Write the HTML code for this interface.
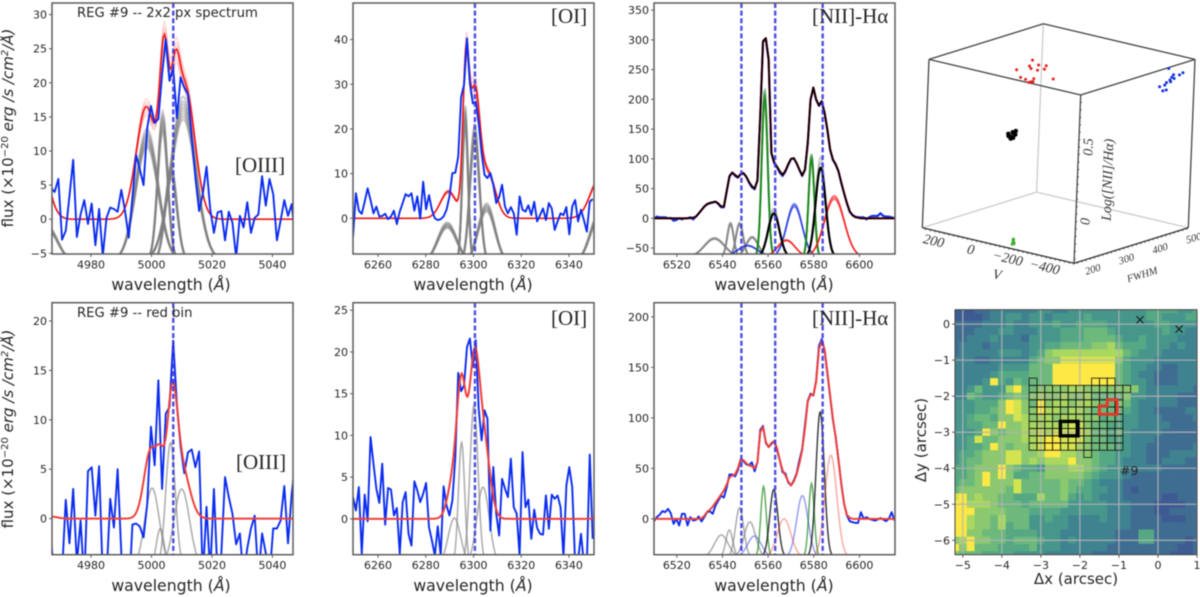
<!DOCTYPE html>
<html lang="en">
<head>
<meta charset="utf-8">
<title>REG #9 spectra and maps</title>
<style>
html,body{margin:0;padding:0;background:#fff;width:1200px;height:597px;overflow:hidden}
svg{display:block;filter:blur(.45px)}
text{font-family:"DejaVu Sans","Liberation Sans",sans-serif;fill:#262626}
.tick{font-size:11px}
.axis{font-size:15.7px}
.mapax{font-size:15px}
.yax{font-size:15px}
.note{font-size:13.2px}
.line{font-family:"Liberation Serif",serif;font-size:21px}
.d3{font-family:"Liberation Serif",serif;font-style:italic;font-size:14px;fill:#333}
.d3s{font-family:"Liberation Serif",serif;font-style:italic;font-size:10.5px;fill:#333}
</style>
</head>
<body>
<svg id="figure" xmlns="http://www.w3.org/2000/svg" width="1200" height="597" viewBox="0 0 1200 597">
  <rect width="1200" height="597" fill="#fff"/>
  <g id="layer"></g>
  <g>
    <text class="yax" text-anchor="middle" transform="translate(13 128) rotate(-90)">flux (×10<tspan dy="-5" font-size="10">−20</tspan><tspan dy="5"> </tspan><tspan font-style="italic">erg /s /cm</tspan><tspan dy="-5" font-size="10" font-style="italic">2</tspan><tspan dy="5" font-style="italic">/Å)</tspan></text>
    <text class="yax" text-anchor="middle" transform="translate(13 429) rotate(-90)">flux (×10<tspan dy="-5" font-size="10">−20</tspan><tspan dy="5"> </tspan><tspan font-style="italic">erg /s /cm</tspan><tspan dy="-5" font-size="10" font-style="italic">2</tspan><tspan dy="5" font-style="italic">/Å)</tspan></text>
    <text class="axis" x="171" y="290" text-anchor="middle">wavelength (<tspan font-style="italic">Å</tspan>)</text>
    <text class="axis" x="473" y="290" text-anchor="middle">wavelength (<tspan font-style="italic">Å</tspan>)</text>
    <text class="axis" x="774" y="290" text-anchor="middle">wavelength (<tspan font-style="italic">Å</tspan>)</text>
    <text class="axis" x="171" y="591" text-anchor="middle">wavelength (<tspan font-style="italic">Å</tspan>)</text>
    <text class="axis" x="473" y="591" text-anchor="middle">wavelength (<tspan font-style="italic">Å</tspan>)</text>
    <text class="axis" x="774" y="591" text-anchor="middle">wavelength (<tspan font-style="italic">Å</tspan>)</text>
    <text class="note" x="77" y="17">REG #9 -- 2x2 px spectrum</text>
    <text class="note" x="77" y="317">REG #9 -- red bin</text>
    <text class="line" x="235" y="172">[OIII]</text>
    <text class="line" x="551" y="23">[OI]</text>
    <text class="line" x="812" y="23">[NII]-Hα</text>
    <text class="line" x="236" y="469">[OIII]</text>
    <text class="line" x="551" y="325">[OI]</text>
    <text class="line" x="812" y="325">[NII]-Hα</text>
    <text class="mapax" x="1076" y="584" text-anchor="middle">Δx (arcsec)</text>
    <text class="mapax" text-anchor="middle" transform="translate(926 440) rotate(-90)">Δy (arcsec)</text>
    <text x="1120" y="475" font-size="12.5">#9</text>
    <text class="d3" x="997" y="279" text-anchor="middle" transform="rotate(10 997 275)">V</text>
    <text class="d3s" x="1142" y="278" text-anchor="middle" transform="rotate(-17 1142 274)">FWHM</text>
    <text class="d3" text-anchor="middle" transform="translate(1112 180) rotate(-88)">Log([NII]/Hα)</text>
  </g>
</svg>
<script>
/* ---------- shared spectral sampling ---------- */
const sampleStep = 1.225;
const oiiiStart = 4966.75;
const oiStart = 6249.5;
const niiStart = 6510;

/* ---------- tick labels ---------- */
const oiiiXTicks = [4980, 5000, 5020, 5040];
const oiXTicks = [6260, 6280, 6300, 6320, 6340];
const niiXTicks = [6520, 6540, 6560, 6580, 6600];
const oiiiTopYTicks = [-5, 0, 5, 10, 15, 20, 25, 30];
const oiTopYTicks = [0, 10, 20, 30, 40];
const niiTopYTicks = [-50, 0, 50, 100, 150, 200, 250, 300, 350];
const oiiiBottomYTicks = [0, 5, 10, 15, 20];
const oiBottomYTicks = [0, 5, 10, 15, 20, 25];
const niiBottomYTicks = [0, 50, 100, 150, 200];
const mapXTicks = [-5, -4, -3, -2, -1, 0, 1];
const mapYTicks = [0, -1, -2, -3, -4, -5, -6];
const cubeVLabels = [200, 0, -200, -400];
const cubeFwhmLabels = [200, 300, 400, 500];
const cubeLogLabels = [0, 0.5];

/* ---------- rest-frame reference wavelengths ---------- */
const oiiiRest = [5007.2];
const oiRest = [6300.6];
const niiRest = [6548.3, 6563.1, 6583.9];

/* ---------- [OIII] top ---------- */
const oiiiTopFlux = [4.6,4.0,5.9,-3.0,-1.7,3.4,8.7,-2.6,0.7,2.8,-0.7,2.3,-3.8,1.5,-5.4,0.2,1.7,1.5,1.1,4.3,1.2,-2.7,3.2,9.4,7.3,5.0,13.4,16.6,14.1,14.7,21.2,26.4,20.3,22.2,14.8,20.8,19.3,18.3,12.0,6.1,1.2,3.7,7.7,1.5,-2.0,1.0,1.2,-3.1,1.1,-0.5,-5.6,0.5,-1.2,2.5,-2.0,0.2,0.7,6.3,2.0,5.9,3.7,-3.1,-0.2,2.8,0.5,2.2,-3.2];
const oiiiTopFitCenter = [4961.5, 4998.3, 5004.2, 5007.8, 5011];
const oiiiTopFitPeak = [14, 16.5, 21, 11, 19.5];
const oiiiTopFitWidth = [3.3, 3.3, 1.5, 1.4, 3.3];
const oiiiTopGrayCenter = [4966, 4998.5, 5003.7, 5006.5, 5010.5];
const oiiiTopGrayPeak = [-1.5, 12, 14.4, 7, 16.4];
const oiiiTopGrayWidth = [3, 3.66, 1.64, 1.9, 4.1];

/* ---------- [OI] top ---------- */
const oiTopFlux = [-4.1,5.6,1.7,1.0,3.7,6.7,4.1,1.1,2.6,0.4,0.5,1.0,-0.2,0.4,1.7,-1.3,1.5,3.4,5.4,4.9,5.6,1.7,4.9,-0.1,8.2,2.0,5.2,1.9,0,-0.4,-0.2,0.4,1.9,4.9,10.1,10.2,13.8,27.2,29.9,40.3,30.2,25.7,26.1,21.3,14.6,9.7,9.0,10.1,7.5,3.4,4.7,7.5,2.6,1.1,2.5,1.1,-3.7,4.9,1.9,1.5,2.9,0.7,3.7,-0.7,0.7,2.2,-0.4,3.4,2.2,-2.6,-0.7,1.1,0.7,2.5,-3.6,2.6,4.1,-0.7,1.9,-0.4,-3,3.7,4.3];
const oiTopFitCenter = [6289.5, 6296.8, 6300.5, 6306, 6353];
const oiTopFitPeak = [6, 32, 27, 10, 9];
const oiTopFitWidth = [3.3, 1.3, 2.1, 3.2, 4];
const oiTopGrayCenter = [6289, 6296.5, 6300.5, 6305.5, 6353];
const oiTopGrayPeak = [-1.5, 23, 19, 2.5, 1];
const oiTopGrayWidth = [4, 1.2, 2, 3.5, 4];

/* ---------- [NII]-Halpha top ---------- */
const niiTopFlux = [0,2.8,1.7,1.7,1.7,0,0.6,-3.9,-2.8,0,-1.7,0,0,1.7,-1.7,2.8,8.4,14,19.6,23.6,25.2,26.4,28,24.1,18.5,18.5,44.9,70,76.8,71.2,68.4,74.6,75.7,70,60,52.2,48.8,64.5,171,297,301,266,109,92.5,85.8,76.8,71.2,78.5,89.7,99.3,101,92.5,81.3,71.2,81.3,126,199,219,199,189,196,177,149,115,98,90,78.5,59,42,25,11,5.6,2.8,1.7,1.7,1.7,-1.7,1.7,3.9,3.9,3.9,8.4,3.9,2.8,2.8,1.7,0];
const niiTopFit = [0,0,0,0,0,0,0,0,0,0,0,0,0,0.5,1,3,8,14,20,24,26,27,28,25,20,20,46,71,77,73,69,74,76,70,61,54,50,63,172,298,303,268,110,94,87,79,73,80,91,100,101,93,82,72,82,127,200,220,200,190,197,178,150,116,99,91,79,60,42,26,12,5,2,1,0,0,0,0,0,0,0,0,0,0,0,0,0];
const niiTopGrayCenter = [6536.5, 6543.5, 6547.5, 6553];
const niiTopGrayPeak = [-34, -9, -9, -32];
const niiTopGrayWidth = [4.4, 1.4, 1.6, 2.7];
const niiTopBlueCenter = [6551, 6571.5];
const niiTopBluePeak = [-46, 22];
const niiTopBlueWidth = [4.4, 3.4];
const niiTopGreenCenter = [6558.5, 6579];
const niiTopGreenPeak = [207, 103];
const niiTopGreenWidth = [1.3, 1.25];
const niiTopBlackCenter = [6562.5, 6583];
const niiTopBlackPeak = [8, 85];
const niiTopBlackWidth = [2.5, 2.2];
const niiTopRedCenter = [6568, 6589];
const niiTopRedPeak = [-37, 35];
const niiTopRedWidth = [3.8, 4.3];

/* ---------- [OIII] bottom ---------- */
const oiiiBottomFlux = [-2.2,-6,-6,-5.5,1.9,-2.5,3,-4.5,-0.2,-6.5,4.8,5.2,0.3,5.3,-6,-6,2,-0.9,5,-3.5,-8,-8,-0.6,-0.5,-0.8,-1.9,1.5,9.3,5.4,14,3,10.6,11.3,18,11.6,7.3,4.6,6.7,7,5.2,6.8,-6,1.2,-5.5,3,-6,-3.5,4.2,2.2,0.5,-2.6,-1.5,-6,-3,-1,0.3,-6,-1.5,-3.5,-6,-1,-1,-0.2,3.3,-2.5,2.5,5.9];
const oiiiBottomFitCenter = [4967, 4999.8, 5003, 5006.8, 5010];
const oiiiBottomFitPeak = [0.2, 7, 4, 11.3, 5];
const oiiiBottomFitWidth = [2, 2.2, 1.3, 1.7, 2.6];
const oiiiBottomGrayCenter = [5000.2, 5002.9, 5006.3, 5010];
const oiiiBottomGrayPeak = [3.1, -1, 7.7, 3];
const oiiiBottomGrayWidth = [2.4, 1.3, 1.6, 2.6];

/* ---------- [OI] bottom ---------- */
const oiBottomFlux = [2.6,1,3.8,-4.2,2.9,-0.3,9.8,6.6,3.6,1.9,6.6,-0.7,3.7,3.5,0.4,1.3,-4.2,2,3.2,-1.8,-3.2,4.5,3.4,2,3,4.3,-1,-2.6,-4.4,-0.9,-4.4,3.9,1.6,0.4,2.2,7.4,17.5,15.3,16,20.6,21.6,18.2,21.4,13.2,9.4,13,12,-1.4,6.2,0.6,-2,4.8,3.6,2.6,7.2,1.4,0.6,-4.4,8,1.4,2.3,-2.4,1.1,-1.1,-1.8,-1.9,2.8,-1.2,2.9,2.4,2.8,1.4,-4.6,4,6.2,3.8,-5.4,-5,-1.8,-5.4,-5.4,7.7,-2.4];
const oiBottomFitCenter = [6291.5, 6295, 6300.3, 6304.5, 6351];
const oiBottomFitPeak = [4.5, 15, 18, 8.5, 0.2];
const oiBottomFitWidth = [2.3, 1.9, 2.2, 2.5, 1];
const oiBottomGrayCenter = [6292, 6295, 6300.2, 6304];
const oiBottomGrayPeak = [0.1, 9.2, 13.6, 3.8];
const oiBottomGrayWidth = [2.6, 1.3, 1.7, 2.6];

/* ---------- [NII]-Halpha bottom ---------- */
const niiBottomFlux = [-2.3,1.7,4,7.6,6.6,9.9,5.6,-5,0,-6.6,5,5,-6.6,1.7,-1.7,-1,2.3,-2.6,1.7,6.6,7.6,5,13.2,18,23,21,31,44,44,42,48,58,57,54,53,56,47,56,88,92,75,71,74,77,68,58,46,45,36,33,38,45,58,69,93,117,124,122,137,171,178,167,144,121,98,81,58,35,15,3.3,-2.3,-3.3,-4,-4,6.6,0,1.7,0,-1,-1.7,-0.7,0.7,-0.7,-2.3,0,6.6,-1.7];
const niiBottomFit = [0,0,0,0,0,0,0,0,0,0,0,0,0,0,0,0,0,0.5,3,7,9,12,16,20,24,28,34,41,43,44,50,59,58,55,53,52,50,56,86,91,76,71,75,77,70,58,48,43,37,33,37,44,55,68,90,116,123,122,136,168,176,168,146,122,99,80,58,34,15,4,1,0,0,0,0,0,0,0,0,0,0,0,0,0,0,0,0];
const niiBottomGrayCenter = [6539.5, 6543, 6547.5, 6552];
const niiBottomGrayPeak = [-16, -11, 11, -3];
const niiBottomGrayWidth = [3, 1.5, 1.8, 2.5];
const niiBottomBlueCenter = [6554, 6575];
const niiBottomBluePeak = [-17, 23];
const niiBottomBlueWidth = [3, 2.5];
const niiBottomGreenCenter = [6558, 6579];
const niiBottomGreenPeak = [32, 35];
const niiBottomGreenWidth = [1.2, 1.2];
const niiBottomBlackCenter = [6562.5, 6582.8];
const niiBottomBlackPeak = [29, 106];
const niiBottomBlackWidth = [1.8, 1.8];
const niiBottomRedCenter = [6567, 6587.5];
const niiBottomRedPeak = [0, 63];
const niiBottomRedWidth = [3, 2.6];

/* ---------- posterior draw multipliers ---------- */
const topDrawScale = [0.92, 0.94, 0.96, 0.98, 1, 1.02, 1.04, 1.07];
const niiDrawScale = [0.97, 1, 1.03];

/* ---------- velocity / FWHM / line-ratio cube ---------- */
const redV = [-20,-103,-88,-97,-137,-132,-178,-169,-43,-70,-114,-101,-88,-218,-110];
const redFwhm = [267,267,267,267,267,267,267,267,267,267,267,267,267,267,267];
const redLog = [0.793,0.882,0.838,0.824,0.859,0.823,0.866,0.841,0.749,0.743,0.760,0.736,0.728,0.789,0.739];
const blueV = [-502,-579,-561,-529,-520,-511,-493,-484,-457,-475,-493,-533,-515];
const blueFwhm = [454,454,454,454,454,454,454,454,454,454,454,454,454];
const blueLog = [0.811,0.805,0.785,0.777,0.757,0.736,0.713,0.694,0.675,0.653,0.664,0.753,0.726];
const blackV = [11,-2,-16,-29,-3,-16,9,-27,-12];
const blackFwhm = [267,267,267,267,267,267,267,267,267];
const blackLog = [0.354,0.339,0.366,0.385,0.326,0.335,0.340,0.360,0.372];
const greenV = [-149,-149,-145,-153];
const greenFwhm = [205,205,205,205];
const greenLog = [-0.264,-0.28,-0.297,-0.29];

/* ---------- map values (colour level per spaxel, row by row) ---------- */
const mapValues = [
[0,0,0,1,1,2,2,2,2,2,2,3,3,2,2,3,3,3,3,3,3,3,3,3,3,4,4,4,4,3,3,4],
[0,0,0,0,1,2,2,3,3,2,3,3,2,3,3,3,3,4,3,3,3,3,3,3,3,4,4,3,3,3,4,4],
[1,1,1,1,2,2,2,3,2,2,3,3,3,4,3,3,4,4,4,4,3,3,3,3,3,3,4,4,3,3,3,3],
[1,1,1,2,2,2,3,3,2,2,2,3,3,3,4,4,4,5,5,5,4,3,3,3,3,3,3,4,3,3,2,2],
[1,1,2,2,2,3,2,2,2,1,3,3,3,3,4,4,4,5,5,5,5,4,3,3,4,3,3,3,3,2,2,2],
[1,2,2,2,1,2,2,2,2,2,3,3,4,4,5,5,5,5,6,6,7,5,4,4,4,3,3,3,2,3,2,2],
[1,2,2,2,2,2,3,3,3,2,3,4,6,7,7,7,7,7,7,7,7,7,5,4,3,3,3,2,2,2,2,2],
[2,2,2,1,1,2,2,2,2,2,4,5,6,6,8,8,8,8,8,8,8,6,4,3,3,3,2,2,2,2,2,2],
[2,2,2,2,2,2,3,3,3,3,5,5,5,9,9,9,9,9,9,9,9,5,4,3,3,2,2,1,1,2,2,2],
[2,2,2,2,2,3,4,4,4,4,5,5,5,9,9,9,9,9,9,9,9,5,4,3,2,2,1,1,1,2,2,2],
[2,2,2,2,3,9,4,3,5,4,5,5,5,9,9,9,9,9,9,9,9,5,4,3,3,2,1,1,1,2,2,2],
[2,2,3,5,3,3,3,7,9,5,5,6,6,6,6,7,7,6,6,6,6,6,6,6,3,2,2,2,2,2,2,1],
[2,2,5,4,3,3,4,5,6,5,6,7,6,6,7,6,6,7,5,5,5,5,6,3,3,2,2,2,2,1,1,1],
[3,3,3,4,4,4,6,9,8,6,5,9,6,7,7,6,7,7,6,5,5,6,5,3,2,2,2,2,2,1,1,1],
[3,3,3,4,4,5,6,9,8,6,6,9,7,7,6,7,7,6,5,5,5,5,4,3,2,2,1,1,1,1,2,2],
[3,3,4,5,5,4,6,6,8,7,6,7,7,6,7,7,7,6,6,4,5,4,3,3,2,2,2,1,1,1,1,2],
[3,3,4,4,5,5,9,6,6,7,7,7,7,7,7,8,8,6,5,5,4,4,3,3,2,2,2,2,1,1,1,1],
[3,3,3,4,9,6,5,6,6,7,7,8,7,8,8,8,8,7,5,5,4,5,3,2,2,2,2,1,1,1,1,1],
[3,3,4,8,5,5,6,6,6,7,7,8,9,9,8,8,8,6,5,5,4,4,3,2,2,2,1,1,1,1,1,1],
[3,3,4,4,5,9,6,5,6,6,7,8,9,9,8,8,7,6,5,5,5,4,3,2,2,1,1,1,1,1,1,2],
[3,4,4,5,6,6,6,8,8,6,6,7,9,9,7,7,6,6,5,4,4,3,3,2,2,1,1,1,2,2,2,2],
[3,4,5,5,6,6,6,8,8,6,7,6,7,7,7,9,6,6,5,4,4,3,2,2,2,1,1,2,2,2,1,1],
[4,4,5,6,6,6,9,6,5,4,4,3,6,6,6,7,7,6,5,4,3,3,2,2,2,2,2,1,1,1,1,1],
[4,4,5,6,9,6,9,6,4,4,5,5,6,6,6,6,6,5,4,3,3,3,2,1,1,1,1,1,1,1,1,1],
[4,5,5,6,9,6,6,6,8,5,5,5,5,5,6,5,5,4,3,2,2,2,1,1,1,1,1,1,1,1,1,1],
[5,6,6,6,6,6,6,5,8,5,5,5,5,5,6,5,4,4,3,3,2,2,1,0,1,1,1,1,1,1,1,1],
[8,9,6,7,6,6,5,5,4,4,4,7,5,5,6,4,3,4,3,2,2,2,1,1,1,1,1,0,0,1,1,1],
[9,9,7,7,7,6,5,5,5,4,5,5,5,5,5,3,3,3,3,3,2,2,2,1,1,1,0,0,0,0,1,1],
[9,9,9,6,6,6,6,5,5,5,4,4,4,4,3,3,3,3,3,3,2,2,2,1,1,1,0,0,1,1,1,1],
[9,9,7,6,6,5,7,5,5,5,3,3,4,3,3,2,2,2,2,3,2,2,2,1,1,1,1,0,0,0,1,1],
[9,9,7,6,6,5,7,4,5,5,3,3,3,3,3,2,2,2,2,2,2,2,2,1,1,1,1,1,1,1,1,1],
[9,9,6,6,5,5,5,4,4,4,4,3,3,3,2,2,2,2,2,2,2,1,1,1,4,4,1,1,1,1,1,1],
[6,7,9,6,6,5,5,4,5,5,5,4,3,3,2,3,2,2,2,2,2,1,1,1,4,4,1,1,1,1,0,1],
[9,6,9,5,5,5,4,4,4,4,5,3,3,3,2,2,2,2,2,2,1,1,1,1,1,1,1,1,1,0,0,1],
[6,5,5,5,4,4,4,4,3,3,3,3,2,2,2,2,2,2,1,1,1,1,1,1,1,1,1,1,0,0,0,1]
];
/* region mesh: first and last spaxel column of each mesh row */
const meshFirstColumn = [0, 0, 0, 0, 0, 0, 0, 0, 0, 0];
const meshLastColumn = [0, 12, 11, 11, 11, 11, 11, 11, 11, 11];
const meshExtraRow = [0, 0, 0, 10];
const meshExtraColumn = [8, 9, 10, 7];
const highlightRedX = [-1.5, -1.3, -1.3, -1.05, -1.05, -1.5];
const highlightRedY = [-2.27, -2.27, -2.1, -2.1, -2.5, -2.5];
const highlightBlackX = [-2.5, -2.05, -2.05, -2.5];
const highlightBlackY = [-2.7, -2.7, -3.1, -3.1];
const crossX = [-0.46, 0.54];
const crossY = [0.12, -0.14];

/* ---------- helpers ---------- */
const NS = 'http://www.w3.org/2000/svg';
const root = document.getElementById('layer');
function make(tag, attrs, name, parent) {
  const el = document.createElementNS(NS, tag);
  for (const k in attrs) el.setAttribute(k, attrs[k]);
  
  
  (parent || root).appendChild(el);
  return el;
}
function scale(d0, d1, p0, p1) {
  return function (v) { return p0 + (v - d0) * (p1 - p0) / (d1 - d0); };
}
function pathOf(xs, ys) {
  return xs.map(function (x, i) { return (i ? 'L' : 'M') + x.toFixed(2) + ' ' + ys[i].toFixed(2); }).join('');
}
function fmt(v) { return String(v).replace('-', '\u2212'); }
let clipCount = 0;

function axes(box, xs, ys, xTicks, yTicks, prefix) {
  const g = make('g', {}, prefix + '-axes');
  xTicks.forEach(function (t) {
    make('line', {x1: xs(t), x2: xs(t), y1: box.b, y2: box.b + 3, stroke: '#333', 'stroke-width': 0.8}, prefix + '-x-tick', g);
    const lab = make('text', {x: xs(t), y: box.b + 14.5, 'text-anchor': 'middle', 'class': 'tick'}, prefix + '-x-tick-label', g);
    lab.textContent = fmt(t);
  });
  yTicks.forEach(function (t) {
    make('line', {x1: box.l - 3, x2: box.l, y1: ys(t), y2: ys(t), stroke: '#333', 'stroke-width': 0.8}, prefix + '-y-tick', g);
    const lab = make('text', {x: box.l - 5, y: ys(t) + 4, 'text-anchor': 'end', 'class': 'tick'}, prefix + '-y-tick-label', g);
    lab.textContent = fmt(t);
  });
}
function frame(box, prefix) {
  make('rect', {x: box.l, y: box.t, width: box.r - box.l, height: box.b - box.t, fill: 'none', stroke: '#5c5c5c', 'stroke-width': 1.5}, prefix + '-frame');
}
function clipFor(box) {
  clipCount += 1;
  const id = 'clip' + clipCount;
  const c = document.createElementNS(NS, 'clipPath');
  c.setAttribute('id', id);
  const r = document.createElementNS(NS, 'rect');
  r.setAttribute('x', box.l); r.setAttribute('y', box.t);
  r.setAttribute('width', box.r - box.l); r.setAttribute('height', box.b - box.t);
  c.appendChild(r); root.appendChild(c);
  return 'url(#' + id + ')';
}
function gaussianSum(domain, centers, peaks, widths, factor) {
  const lam = [], val = [];
  for (let w = domain[0]; w <= domain[1]; w += 0.4) {
    let s = 0;
    centers.forEach(function (c, i) {
      s += factor * peaks[i] * Math.exp(-(w - c) * (w - c) / (2 * widths[i] * widths[i]));
    });
    lam.push(w); val.push(s);
  }
  return [lam, val];
}
function component(g, domain, xs, ys, base, c, peak, w, factor, style, name) {
  const lam = [], val = [];
  for (let l = domain[0]; l <= domain[1]; l += 0.3) {
    lam.push(xs(l));
    val.push(ys(base + factor * (peak - base) * Math.exp(-(l - c) * (l - c) / (2 * w * w))));
  }
  make('path', {d: pathOf(lam, val), fill: 'none', stroke: style.color, 'stroke-width': style.width, 'stroke-opacity': style.opacity}, name, g);
}
function components(g, domain, xs, ys, base, centers, peaks, widths, factors, style, name) {
  centers.forEach(function (c, i) {
    factors.forEach(function (f) {
      component(g, domain, xs, ys, base, c, peaks[i], widths[i], f, style, name);
    });
  });
}
function sampled(g, xs, ys, start, values, style, name) {
  const px = values.map(function (v, i) { return xs(start + sampleStep * i); });
  const py = values.map(function (v) { return ys(v); });
  make('path', {d: pathOf(px, py), fill: 'none', stroke: style.color, 'stroke-width': style.width, 'stroke-opacity': style.opacity || 1, 'stroke-linejoin': 'round'}, name, g);
}
function restLines(g, xs, box, rest, name) {
  rest.forEach(function (w) {
    make('line', {x1: xs(w), x2: xs(w), y1: box.t, y2: box.b, stroke: '#3a3adf', 'stroke-width': 2.4, 'stroke-dasharray': '5 2.6', 'stroke-opacity': 0.9}, name, g);
  });
}
function fitCurves(g, domain, xs, ys, centers, peaks, widths, draws, mainStyle, name) {
  draws.forEach(function (f) {
    const c = gaussianSum(domain, centers, peaks, widths, f);
    make('path', {d: pathOf(c[0].map(xs), c[1].map(ys)), fill: 'none', stroke: '#f02020', 'stroke-width': 1, 'stroke-opacity': 0.22}, name + '-draw', g);
  });
  const m = gaussianSum(domain, centers, peaks, widths, 1);
  make('path', {d: pathOf(m[0].map(xs), m[1].map(ys)), fill: 'none', stroke: mainStyle.color, 'stroke-width': mainStyle.width}, name, g);
}

const grayTop = {color: '#808080', width: 2, opacity: 0.4};
const grayBottom = {color: '#888', width: 1.5, opacity: 0.7};
const blueLine = {color: '#0a2cf0', width: 1.9};
const redTop = {color: '#f01818', width: 1.6};
const redBottom = {color: '#f0403a', width: 2};

/* ---------- panel 1: [OIII] top ---------- */
(function () {
  const box = {l: 52, r: 293, t: 3, b: 254};
  const dom = [4967.1, 5046.8];
  const xs = scale(dom[0], dom[1], box.l, box.r);
  const ys = scale(-5.1, 31.7, box.b, box.t);
  axes(box, xs, ys, oiiiXTicks, oiiiTopYTicks, 'oiii-top');
  const g = make('g', {'clip-path': clipFor(box)}, 'oiii-top-plot-area');
  components(g, dom, xs, ys, -6, oiiiTopGrayCenter, oiiiTopGrayPeak, oiiiTopGrayWidth, topDrawScale, grayTop, 'oiii-top-gaussian-component');
  fitCurves(g, dom, xs, ys, oiiiTopFitCenter, oiiiTopFitPeak, oiiiTopFitWidth, topDrawScale, redTop, 'oiii-top-model-fit');
  sampled(g, xs, ys, oiiiStart, oiiiTopFlux, blueLine, 'oiii-top-observed-spectrum');
  restLines(g, xs, box, oiiiRest, 'oiii-top-rest-wavelength');
  frame(box, 'oiii-top');
})();

/* ---------- panel 2: [OI] top ---------- */
(function () {
  const box = {l: 353, r: 594, t: 3, b: 254};
  const dom = [6249.5, 6350.5];
  const xs = scale(dom[0], dom[1], box.l, box.r);
  const ys = scale(-8, 48.2, box.b, box.t);
  axes(box, xs, ys, oiXTicks, oiTopYTicks, 'oi-top');
  const g = make('g', {'clip-path': clipFor(box)}, 'oi-top-plot-area');
  components(g, dom, xs, ys, -10, oiTopGrayCenter, oiTopGrayPeak, oiTopGrayWidth, topDrawScale, grayTop, 'oi-top-gaussian-component');
  fitCurves(g, dom, xs, ys, oiTopFitCenter, oiTopFitPeak, oiTopFitWidth, topDrawScale, redTop, 'oi-top-model-fit');
  sampled(g, xs, ys, oiStart, oiTopFlux, blueLine, 'oi-top-observed-spectrum');
  restLines(g, xs, box, oiRest, 'oi-top-rest-wavelength');
  frame(box, 'oi-top');
})();

/* ---------- panel 3: [NII]-Ha top ---------- */
(function () {
  const box = {l: 654, r: 895, t: 3, b: 254};
  const dom = [6510, 6615.6];
  const xs = scale(dom[0], dom[1], box.l, box.r);
  const ys = scale(-60, 362, box.b, box.t);
  axes(box, xs, ys, niiXTicks, niiTopYTicks, 'nii-top');
  const g = make('g', {'clip-path': clipFor(box)}, 'nii-top-plot-area');
  const w = 1.9, base = -65;
  components(g, dom, xs, ys, base, niiTopGrayCenter, niiTopGrayPeak, niiTopGrayWidth, niiDrawScale, {color: '#808080', width: w, opacity: 0.6}, 'nii-top-gray-component');
  components(g, dom, xs, ys, base, niiTopBlueCenter, niiTopBluePeak, niiTopBlueWidth, niiDrawScale, {color: '#1c30e0', width: 1.5, opacity: 0.6}, 'nii-top-blue-component');
  components(g, dom, xs, ys, base, niiTopGreenCenter, niiTopGreenPeak, niiTopGreenWidth, niiDrawScale, {color: '#0d800d', width: w, opacity: 0.6}, 'nii-top-green-component');
  components(g, dom, xs, ys, base, niiTopRedCenter, niiTopRedPeak, niiTopRedWidth, niiDrawScale, {color: '#f01818', width: 1.5, opacity: 0.6}, 'nii-top-red-component');
  components(g, dom, xs, ys, base, niiTopBlackCenter, niiTopBlackPeak, niiTopBlackWidth, [1.12, 1.06], {color: '#888', width: 1.5, opacity: 0.5}, 'nii-top-black-component-draw');
  components(g, dom, xs, ys, base, niiTopBlackCenter, niiTopBlackPeak, niiTopBlackWidth, [1], {color: '#000', width: 2.2, opacity: 1}, 'nii-top-black-component');
  sampled(g, xs, ys, niiStart, niiTopFlux, {color: '#0a2cf0', width: 2.2}, 'nii-top-observed-spectrum');
  sampled(g, xs, ys, niiStart, niiTopFit, {color: '#f01818', width: 2.1}, 'nii-top-model-fit');
  sampled(g, xs, ys, niiStart, niiTopFit, {color: '#000', width: 1.7}, 'nii-top-mean-fit');
  restLines(g, xs, box, niiRest, 'nii-top-rest-wavelength');
  frame(box, 'nii-top');
})();

/* ---------- panel 4: [OIII] bottom ---------- */
(function () {
  const box = {l: 52, r: 293, t: 302.7, b: 554.7};
  const dom = [4967.1, 5046.8];
  const xs = scale(dom[0], dom[1], box.l, box.r);
  const ys = scale(-3.65, 21.85, box.b, box.t);
  axes(box, xs, ys, oiiiXTicks, oiiiBottomYTicks, 'oiii-bottom');
  const g = make('g', {'clip-path': clipFor(box)}, 'oiii-bottom-plot-area');
  components(g, dom, xs, ys, -5, oiiiBottomGrayCenter, oiiiBottomGrayPeak, oiiiBottomGrayWidth, [1], grayBottom, 'oiii-bottom-gaussian-component');
  sampled(g, xs, ys, oiiiStart, oiiiBottomFlux, blueLine, 'oiii-bottom-observed-spectrum');
  fitCurves(g, dom, xs, ys, oiiiBottomFitCenter, oiiiBottomFitPeak, oiiiBottomFitWidth, [], redBottom, 'oiii-bottom-model-fit');
  restLines(g, xs, box, oiiiRest, 'oiii-bottom-rest-wavelength');
  frame(box, 'oiii-bottom');
})();

/* ---------- panel 5: [OI] bottom ---------- */
(function () {
  const box = {l: 353, r: 594, t: 302.7, b: 554.7};
  const dom = [6249.5, 6350.5];
  const xs = scale(dom[0], dom[1], box.l, box.r);
  const ys = scale(-4.3, 25.9, box.b, box.t);
  axes(box, xs, ys, oiXTicks, oiBottomYTicks, 'oi-bottom');
  const g = make('g', {'clip-path': clipFor(box)}, 'oi-bottom-plot-area');
  components(g, dom, xs, ys, -5.5, oiBottomGrayCenter, oiBottomGrayPeak, oiBottomGrayWidth, [1], grayBottom, 'oi-bottom-gaussian-component');
  sampled(g, xs, ys, oiStart, oiBottomFlux, blueLine, 'oi-bottom-observed-spectrum');
  fitCurves(g, dom, xs, ys, oiBottomFitCenter, oiBottomFitPeak, oiBottomFitWidth, [], redBottom, 'oi-bottom-model-fit');
  restLines(g, xs, box, oiRest, 'oi-bottom-rest-wavelength');
  frame(box, 'oi-bottom');
})();

/* ---------- panel 6: [NII]-Ha bottom ---------- */
(function () {
  const box = {l: 654, r: 895, t: 302.7, b: 554.7};
  const dom = [6510, 6615.6];
  const xs = scale(dom[0], dom[1], box.l, box.r);
  const ys = scale(-35.5, 214, box.b, box.t);
  axes(box, xs, ys, niiXTicks, niiBottomYTicks, 'nii-bottom');
  const g = make('g', {'clip-path': clipFor(box)}, 'nii-bottom-plot-area');
  const base = -38;
  components(g, dom, xs, ys, base, niiBottomGrayCenter, niiBottomGrayPeak, niiBottomGrayWidth, [1], {color: '#808080', width: 1.5, opacity: 0.65}, 'nii-bottom-gray-component');
  components(g, dom, xs, ys, base, niiBottomBlueCenter, niiBottomBluePeak, niiBottomBlueWidth, [1], {color: '#3040f0', width: 1.5, opacity: 0.5}, 'nii-bottom-blue-component');
  components(g, dom, xs, ys, base, niiBottomGreenCenter, niiBottomGreenPeak, niiBottomGreenWidth, [1], {color: '#0d800d', width: 1.5, opacity: 0.65}, 'nii-bottom-green-component');
  components(g, dom, xs, ys, base, niiBottomBlackCenter, niiBottomBlackPeak, niiBottomBlackWidth, [1], {color: '#000', width: 1.5, opacity: 0.75}, 'nii-bottom-black-component');
  components(g, dom, xs, ys, base, niiBottomRedCenter, niiBottomRedPeak, niiBottomRedWidth, [1], {color: '#f03020', width: 1.5, opacity: 0.4}, 'nii-bottom-red-component');
  sampled(g, xs, ys, niiStart, niiBottomFlux, blueLine, 'nii-bottom-observed-spectrum');
  sampled(g, xs, ys, niiStart, niiBottomFit, redBottom, 'nii-bottom-model-fit');
  restLines(g, xs, box, niiRest, 'nii-bottom-rest-wavelength');
  frame(box, 'nii-bottom');
})();

/* ---------- 3D cube ---------- */
(function () {
  const vAt = scale(-550, 270, 0, 1);
  const fAt = scale(165, 505, 0, 1);
  const lAt = scale(-0.28, 0.85, 0, 1);
  function project(v, f, l) {
    const u = vAt(v), w = fAt(f), h = lAt(l);
    return [1074 - 151.7 * u + 114.3 * w + 6.7 * h, 263.3 - 35.6 * u - 35.6 * w - 168.3 * h];
  }
  const g = make('g', {}, 'cube-plot');
  function edge(a, b, color, name) {
    make('line', {x1: a[0], y1: a[1], x2: b[0], y2: b[1], stroke: color, 'stroke-width': 1.3}, name, g);
  }
  const V0 = -550, V1 = 270, F0 = 165, F1 = 505, L0 = -0.28, L1 = 0.85;
  const back = project(V1, F1, L0);
  edge(back, project(V1, F0, L0), '#ccc', 'cube-floor-edge');
  edge(back, project(V0, F1, L0), '#ccc', 'cube-floor-edge');
  edge(back, project(V1, F1, L1), '#ccc', 'cube-back-edge');
  edge(project(V1, F0, L0), project(V0, F0, L0), '#333', 'cube-v-axis');
  edge(project(V0, F0, L0), project(V0, F1, L0), '#333', 'cube-fwhm-axis');
  edge(project(V1, F0, L0), project(V1, F0, L1), '#444', 'cube-edge');
  edge(project(V0, F0, L0), project(V0, F0, L1), '#444', 'cube-log-axis');
  edge(project(V0, F1, L0), project(V0, F1, L1), '#444', 'cube-edge');
  edge(project(V1, F0, L1), project(V0, F0, L1), '#444', 'cube-top-edge');
  edge(project(V0, F0, L1), project(V0, F1, L1), '#444', 'cube-top-edge');
  edge(project(V0, F1, L1), project(V1, F1, L1), '#444', 'cube-top-edge');
  edge(project(V1, F1, L1), project(V1, F0, L1), '#444', 'cube-top-edge');
  for (let v = 250; v >= -550; v -= 25) {
    const p = project(v, F0, L0);
    make('line', {x1: p[0], y1: p[1], x2: p[0] - 0.5, y2: p[1] + 1.6, stroke: '#333', 'stroke-width': 0.7}, 'cube-v-minor-tick', g);
  }
  for (let f = 175; f <= 500; f += 12.5) {
    const p = project(V0, f, L0);
    make('line', {x1: p[0], y1: p[1], x2: p[0] + 0.5, y2: p[1] + 1.6, stroke: '#333', 'stroke-width': 0.7}, 'cube-fwhm-minor-tick', g);
  }
  for (let l = -0.25; l <= 0.85; l += 0.05) {
    const p = project(V0, F0, l);
    make('line', {x1: p[0], y1: p[1], x2: p[0] + 1.6, y2: p[1], stroke: '#333', 'stroke-width': 0.7}, 'cube-log-minor-tick', g);
  }
  cubeVLabels.forEach(function (v) {
    const p = project(v, F0, L0);
    const x = p[0] - 2.5, y = p[1] + 14.5;
    const t = make('text', {x: x, y: y, 'text-anchor': 'middle', 'class': 'd3', transform: 'rotate(13 ' + x + ' ' + y + ')'}, 'cube-v-tick-label', g);
    t.textContent = fmt(v);
  });
  cubeFwhmLabels.forEach(function (f) {
    const p = project(V0, f, L0);
    const x = p[0] + 8, y = p[1] + 13;
    const t = make('text', {x: x, y: y, 'text-anchor': 'middle', 'class': 'd3s', transform: 'rotate(-17 ' + x + ' ' + y + ')'}, 'cube-fwhm-tick-label', g);
    t.textContent = fmt(f);
  });
  cubeLogLabels.forEach(function (l) {
    const p = project(V0, F0, l);
    const x = p[0] + 14, y = p[1];
    const t = make('text', {x: x, y: y, 'text-anchor': 'middle', 'class': 'd3', transform: 'rotate(-88 ' + x + ' ' + y + ')'}, 'cube-log-tick-label', g);
    t.textContent = fmt(l);
  });
  function cloud(vs, fs, ls, color, r, name) {
    vs.forEach(function (v, i) {
      const p = project(v, fs[i], ls[i]);
      make('circle', {cx: p[0], cy: p[1], r: r, fill: color}, name, g);
    });
  }
  cloud(redV, redFwhm, redLog, '#e8201c', 1.5, 'cube-red-point');
  cloud(blueV, blueFwhm, blueLog, '#1030e0', 1.5, 'cube-blue-point');
  cloud(blackV, blackFwhm, blackLog, '#000', 2.2, 'cube-black-point');
  cloud(greenV, greenFwhm, greenLog, '#3cb030', 1.7, 'cube-green-point');
})();

/* ---------- map panel ---------- */
(function () {
  const box = {l: 955, r: 1197, t: 309.7, b: 554.7};
  const xs = scale(-5.2, 1, box.l, box.r);
  const ys = scale(0.4, -6.4, box.t, box.b);
  const palette = ['#3d5b92', '#3f6d92', '#3f8290', '#47968b', '#55a883', '#6db97c', '#8bc86f', '#a9d760', '#d4e350', '#fde845'];
  const g = make('g', {'clip-path': clipFor(box)}, 'map-plot-area');
  mapValues.forEach(function (row, r) {
    row.forEach(function (value, c) {
      const x0 = xs(-5.3 + 0.2 * c), y0 = ys(0.5 - 0.2 * r);
      const x1 = xs(-5.1 + 0.2 * c), y1 = ys(0.3 - 0.2 * r);
      make('rect', {x: x0, y: y0, width: x1 - x0 + 0.3, height: y1 - y0 + 0.3, fill: palette[Math.max(0, Math.min(9, Math.round(value)))]}, 'map-cell', g);
    });
  });
  mapXTicks.forEach(function (t) {
    make('line', {x1: xs(t), x2: xs(t), y1: box.t, y2: box.b, stroke: '#b4b4b4', 'stroke-width': 1.3, 'stroke-opacity': 0.85}, 'map-grid-line', g);
  });
  mapYTicks.forEach(function (t) {
    make('line', {x1: box.l, x2: box.r, y1: ys(t), y2: ys(t), stroke: '#b4b4b4', 'stroke-width': 1.3, 'stroke-opacity': 0.85}, 'map-grid-line', g);
  });
  function meshCell(row, col) {
    const x0 = xs(-3.3 + 0.2 * col), y0 = ys(-1.5 - 0.2 * row);
    const x1 = xs(-3.1 + 0.2 * col), y1 = ys(-1.7 - 0.2 * row);
    make('rect', {x: x0, y: y0, width: x1 - x0, height: y1 - y0, fill: 'none', stroke: '#111', 'stroke-width': 0.8}, 'region-mesh-cell', g);
  }
  meshFirstColumn.forEach(function (first, row) {
    for (let c = first; c <= meshLastColumn[row]; c++) meshCell(row, c);
  });
  meshExtraRow.forEach(function (row, i) { meshCell(row, meshExtraColumn[i]); });
  make('path', {d: pathOf(highlightRedX.map(xs), highlightRedY.map(ys)) + 'Z', fill: 'none', stroke: '#e0392b', 'stroke-width': 3}, 'highlight-red-region', g);
  make('path', {d: pathOf(highlightBlackX.map(xs), highlightBlackY.map(ys)) + 'Z', fill: 'none', stroke: '#000', 'stroke-width': 3.4}, 'highlight-black-region', g);
  crossX.forEach(function (x, i) {
    const cx = xs(x), cy = ys(crossY[i]);
    make('path', {d: 'M' + (cx - 3.5) + ' ' + (cy - 3.5) + 'L' + (cx + 3.5) + ' ' + (cy + 3.5) + 'M' + (cx - 3.5) + ' ' + (cy + 3.5) + 'L' + (cx + 3.5) + ' ' + (cy - 3.5), stroke: '#111', 'stroke-width': 1, fill: 'none'}, 'map-cross-marker', g);
  });
  axes(box, xs, ys, mapXTicks, mapYTicks, 'map');
  make('rect', {x: box.l, y: box.t, width: box.r - box.l, height: box.b - box.t, fill: 'none', stroke: '#444', 'stroke-width': 1}, 'map-frame');
})();
</script>
</body>
</html>
